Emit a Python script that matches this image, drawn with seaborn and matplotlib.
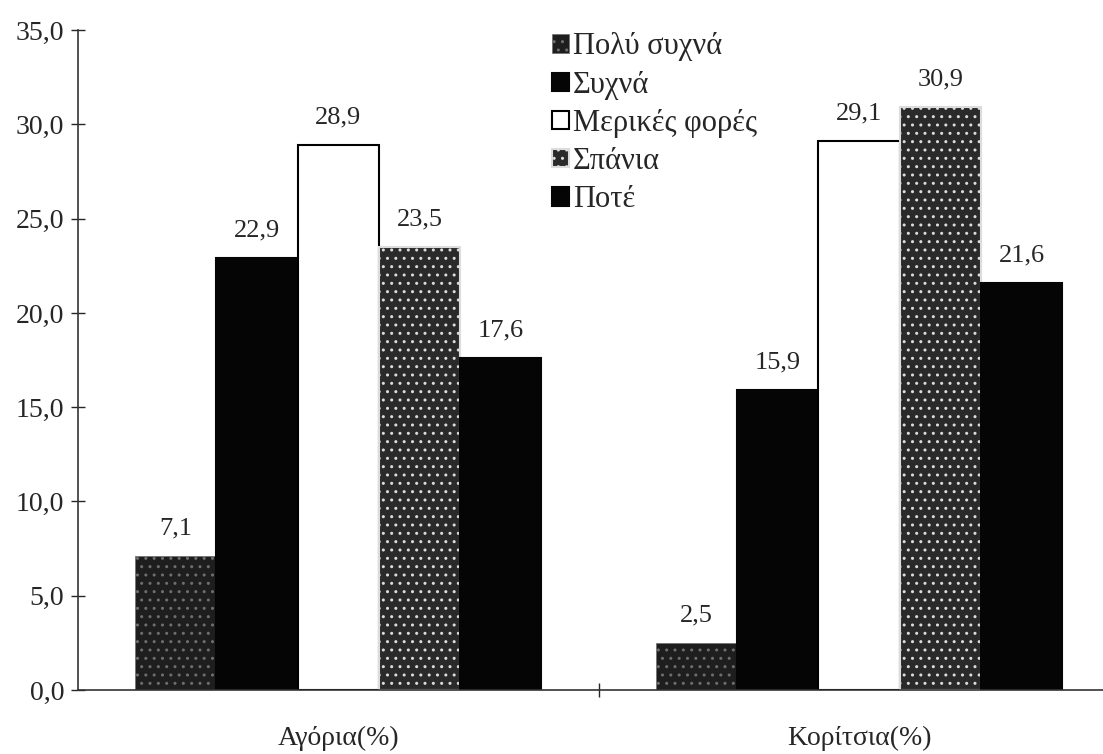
import pandas as pd
import numpy as np
import matplotlib
matplotlib.use("Agg")
import matplotlib.pyplot as plt
import seaborn as sns

# data
groups = ["Αγόρια(%)", "Κορίτσια(%)"]
answers = ["Πολύ συχνά", "Συχνά", "Μερικές φορές", "Σπάνια", "Ποτέ"]
boys = [7.1, 22.9, 28.9, 23.5, 17.6]
girls = [2.5, 15.9, 29.1, 30.9, 21.6]
y_ticks = [0, 5, 10, 15, 20, 25, 30, 35]

df = pd.DataFrame({
    "group": [groups[0]] * len(answers) + [groups[1]] * len(answers),
    "answer": answers * 2,
    "value": boys + girls,
})

sns.set_theme(style="white")
plt.rcParams["font.family"] = ["Liberation Serif", "DejaVu Serif"]

fill = {"Πολύ συχνά": "#1e1e1e", "Συχνά": "#050505", "Μερικές φορές": "#ffffff",
        "Σπάνια": "#2a2a2a", "Ποτέ": "#050505"}
# hatch colour follows the edge colour, so the edge sets the speckle tone
edges = {"Πολύ συχνά": "#6e6e6e", "Συχνά": "#050505", "Μερικές φορές": "#000000",
         "Σπάνια": "#dcdcdc", "Ποτέ": "#050505"}
speckled = {"Πολύ συχνά", "Σπάνια"}

fig = plt.figure(figsize=(11.03, 7.54), dpi=100)
ax = fig.add_axes([0.0707, 0.085, 0.93, 0.875])

sns.barplot(data=df, x="group", y="value", hue="answer", order=groups,
            hue_order=answers, palette=fill, width=0.78, saturation=1,
            legend=False, ax=ax)

for name, cont in zip(answers, ax.containers):
    for bar in cont:
        bar.set_linewidth(1.5 if name != "Πολύ συχνά" else 0.5)
        bar.set_edgecolor(edges[name])
        if name in speckled:
            bar.set_hatch("..")
    labels = [f"{v:.1f}".replace(".", ",") for v in cont.datavalues]
    ax.bar_label(cont, labels=labels, padding=12, fontsize=19)

ax.set_ylim(0, 35)
ax.set_xlim(-0.5, 1.47)
ax.set_yticks(y_ticks)
ax.set_yticklabels([f"{t:.1f}".replace(".", ",") for t in y_ticks], fontsize=20)
ax.set_xticklabels(groups, fontsize=20)
ax.set_xlabel("")
ax.set_ylabel("")

for side in ["top", "right"]:
    ax.spines[side].set_visible(False)
for side in ["left", "bottom"]:
    ax.spines[side].set_color("#333333")
    ax.spines[side].set_linewidth(1.2)

ax.tick_params(axis="y", direction="inout", length=10, width=1, left=True, pad=5)
ax.tick_params(axis="x", length=0, pad=26)
ax.set_xticks([0.5], minor=True)
ax.tick_params(axis="x", which="minor", direction="inout", length=10, width=1, bottom=True)

handles = [cont.patches[0] for cont in ax.containers]
ax.legend(handles, answers, loc="upper left", bbox_to_anchor=(0.45, 1.015),
          frameon=False, fontsize=22, handlelength=0.55, handleheight=0.55,
          handletextpad=0.15, labelspacing=0.3, borderaxespad=0)

fig.savefig("out.png", dpi=100)
